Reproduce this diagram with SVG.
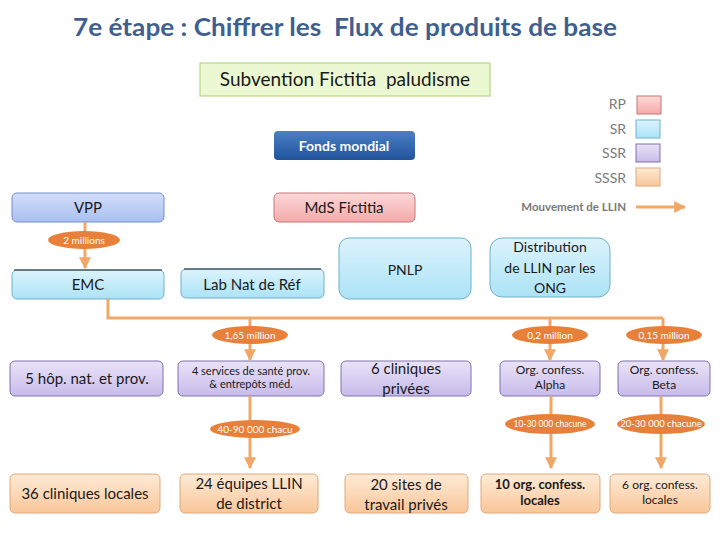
<svg xmlns="http://www.w3.org/2000/svg" width="720" height="540" viewBox="0 0 720 540">
<style>
text{font-family:Lato,"Liberation Sans",sans-serif;text-anchor:middle;fill:#1a1a1a}
.lbl{font-size:15px}
.rp{fill:url(#gRP);stroke:#c77676;stroke-width:1}
.sr{fill:url(#gSR);stroke:#6fb0cb;stroke-width:1}
.ssr{fill:url(#gSSR);stroke:#7f72ad;stroke-width:1}
.sssr{fill:url(#gSSSR);stroke:#e0a878;stroke-width:1}
.vpp{fill:url(#gVPP);stroke:#7490cf;stroke-width:1}
.con{stroke:#f0a868;stroke-width:3;fill:none}
.arr{marker-end:url(#ah)}
.pill{fill:#e8803a}
.pt{fill:#fff;font-size:10px}
.leg{fill:#7a7a7a;font-size:14px;text-anchor:end}
</style>
<defs>
<linearGradient id="gRP" x1="0" y1="0" x2="0" y2="1"><stop offset="0" stop-color="#fcd9d9"/><stop offset="1" stop-color="#f4a9a9"/></linearGradient>
<linearGradient id="gSR" x1="0" y1="0" x2="0" y2="1"><stop offset="0" stop-color="#dcf3fc"/><stop offset="1" stop-color="#abe3f6"/></linearGradient>
<linearGradient id="gSSR" x1="0" y1="0" x2="0" y2="1"><stop offset="0" stop-color="#e9e3f8"/><stop offset="1" stop-color="#c7bbea"/></linearGradient>
<linearGradient id="gSSSR" x1="0" y1="0" x2="0" y2="1"><stop offset="0" stop-color="#feebd7"/><stop offset="1" stop-color="#f9c699"/></linearGradient>
<linearGradient id="gVPP" x1="0" y1="0" x2="0" y2="1"><stop offset="0" stop-color="#d2ddf9"/><stop offset="1" stop-color="#a9c0f1"/></linearGradient>
<linearGradient id="gFM" x1="0" y1="0" x2="0" y2="1"><stop offset="0" stop-color="#4a80c6"/><stop offset="1" stop-color="#21539b"/></linearGradient>
<marker id="ah" viewBox="0 0 10 10" refX="9" refY="5" markerWidth="4" markerHeight="4" orient="auto" markerUnits="strokeWidth"><path d="M0,0 L10,5 L0,10 z" fill="#f0a868"/></marker>
</defs>

<text x="345" y="36" xml:space="preserve" style="font-size:24px;font-weight:bold;fill:#3f5f8f" textLength="544" lengthAdjust="spacingAndGlyphs">7e étape : Chiffrer les  Flux de produits de base</text>

<g id="subvention">
<rect x="200" y="63" width="290" height="33" fill="#ecf8d2" stroke="#a9cf72"/>
<text x="345" y="86" xml:space="preserve" style="font-size:19px">Subvention Fictitia  paludisme</text>
</g>

<g id="legend">
<text class="leg" x="626" y="109">RP</text><rect x="637" y="96" width="24" height="18" class="rp"/>
<text class="leg" x="626" y="134">SR</text><rect x="636" y="120" width="24" height="18" class="sr"/>
<text class="leg" x="626" y="158">SSR</text><rect x="636" y="144" width="24" height="18" class="ssr"/>
<text class="leg" x="626" y="183">SSSR</text><rect x="636" y="168" width="24" height="18" class="sssr"/>
<text x="626" y="211" style="font-size:11.5px;font-weight:bold;fill:#7a7a7a;text-anchor:end">Mouvement de LLIN</text>
<line x1="636" y1="207" x2="685" y2="207" class="con arr"/>
</g>

<g id="fonds">
<rect x="274" y="131" width="141" height="29" rx="4" fill="url(#gFM)"/>
<text x="344" y="151" style="font-size:14px;font-weight:bold;fill:#fff">Fonds mondial</text>
</g>

<g id="mds">
<rect x="274" y="193" width="141" height="29" rx="5" class="rp"/>
<text x="344" y="213" class="lbl">MdS Fictitia</text>
</g>

<g id="vpp">
<rect x="12" y="193" width="152" height="29" rx="5" class="vpp"/>
<text x="88" y="213" class="lbl">VPP</text>
</g>

<g id="emc">
<rect x="12" y="270" width="152" height="29" rx="5" class="sr"/>
<line x1="14" y1="270" x2="162" y2="270" stroke="#222" stroke-width="1"/>
<text x="88" y="290" class="lbl">EMC</text>
</g>

<g id="lab">
<rect x="181" y="269" width="143" height="29" rx="5" class="sr"/>
<line x1="184" y1="269" x2="321" y2="269" stroke="#222" stroke-width="1"/>
<text x="252" y="290" class="lbl">Lab Nat de Réf</text>
</g>

<g id="pnlp">
<rect x="339" y="238" width="132" height="61" rx="10" class="sr"/>
<text x="405" y="275" style="font-size:14px">PNLP</text>
</g>

<g id="ong">
<rect x="490" y="238" width="120" height="59" rx="12" class="sr"/>
<text x="550" y="252" style="font-size:14px">Distribution</text>
<text x="550" y="273" style="font-size:14px">de LLIN par les</text>
<text x="550" y="293" style="font-size:14px">ONG</text>
</g>

<g id="hop">
<rect x="10" y="361" width="153" height="35" rx="5" class="ssr"/>
<text x="87" y="384" class="lbl">5 hôp. nat. et prov.</text>
</g>
<g id="services">
<rect x="178" y="361" width="146" height="35" rx="5" class="ssr"/>
<text x="251" y="375" style="font-size:11px">4 services de santé prov.</text>
<text x="251" y="388" style="font-size:11px">&amp; entrepôts méd.</text>
</g>
<g id="cliniques">
<rect x="341" y="361" width="130" height="35" rx="5" class="ssr"/>
<text x="406" y="374" class="lbl">6 cliniques</text>
<text x="406" y="394" class="lbl">privées</text>
</g>
<g id="alpha">
<rect x="500" y="361" width="100" height="35" rx="5" class="ssr"/>
<text x="550" y="374" style="font-size:12px">Org. confess.</text>
<text x="550" y="389" style="font-size:12px">Alpha</text>
</g>
<g id="beta">
<rect x="618" y="361" width="92" height="35" rx="5" class="ssr"/>
<text x="664" y="374" style="font-size:12px">Org. confess.</text>
<text x="664" y="389" style="font-size:12px">Beta</text>
</g>

<g id="locales36">
<rect x="10" y="474" width="150" height="39" rx="5" class="sssr"/>
<text x="85" y="499" class="lbl">36 cliniques locales</text>
</g>
<g id="equipes">
<rect x="180" y="474" width="138" height="39" rx="5" class="sssr"/>
<text x="249" y="489" class="lbl">24 équipes LLIN</text>
<text x="249" y="509" class="lbl">de district</text>
</g>
<g id="sites">
<rect x="345" y="474" width="123" height="39" rx="5" class="sssr"/>
<text x="406" y="490" class="lbl">20 sites de</text>
<text x="406" y="510" class="lbl">travail privés</text>
</g>
<g id="org10">
<rect x="481" y="474" width="119" height="39" rx="5" class="sssr"/>
<text x="540" y="489" style="font-size:13px;font-weight:bold">10 org. confess.</text>
<text x="540" y="505" style="font-size:13px;font-weight:bold">locales</text>
</g>
<g id="org6">
<rect x="610" y="474" width="100" height="39" rx="5" class="sssr"/>
<text x="660" y="489" style="font-size:12px">6 org. confess.</text>
<text x="660" y="504" style="font-size:12px">locales</text>
</g>

<g id="connectors">
<line x1="85" y1="222" x2="85" y2="268" class="con arr"/>
<polyline points="108,299 108,318 663,318" class="con"/>
<line x1="250" y1="318" x2="250" y2="360" class="con arr"/>
<line x1="550" y1="318" x2="550" y2="360" class="con arr"/>
<line x1="663" y1="318" x2="663" y2="360" class="con arr"/>
<line x1="250" y1="396" x2="250" y2="468" class="con arr"/>
<line x1="551" y1="396" x2="551" y2="468" class="con arr"/>
<line x1="661" y1="396" x2="661" y2="468" class="con arr"/>

<ellipse cx="84" cy="240" rx="36" ry="9" class="pill"/>
<text x="84" y="244" class="pt">2 millions</text>
<ellipse cx="250" cy="335" rx="38" ry="9" class="pill"/>
<text x="250" y="339" class="pt">1,65 million</text>
<ellipse cx="550" cy="335" rx="38" ry="9" class="pill"/>
<text x="550" y="339" class="pt">0,2 million</text>
<ellipse cx="664" cy="335" rx="38" ry="9" class="pill"/>
<text x="664" y="339" class="pt">0,15 million</text>
<ellipse cx="255" cy="429" rx="45" ry="9" class="pill"/>
<text x="255" y="433" class="pt">40-90 000 chacu</text>
<ellipse cx="550" cy="424" rx="45" ry="10" class="pill"/>
<text x="550" y="427" class="pt" style="font-size:8.5px">10-30 000 chacune</text>
<ellipse cx="661" cy="424" rx="44" ry="10" class="pill"/>
<text x="661" y="427" class="pt" style="font-size:9.5px">20-30 000 chacune</text>
</g>
</svg>
